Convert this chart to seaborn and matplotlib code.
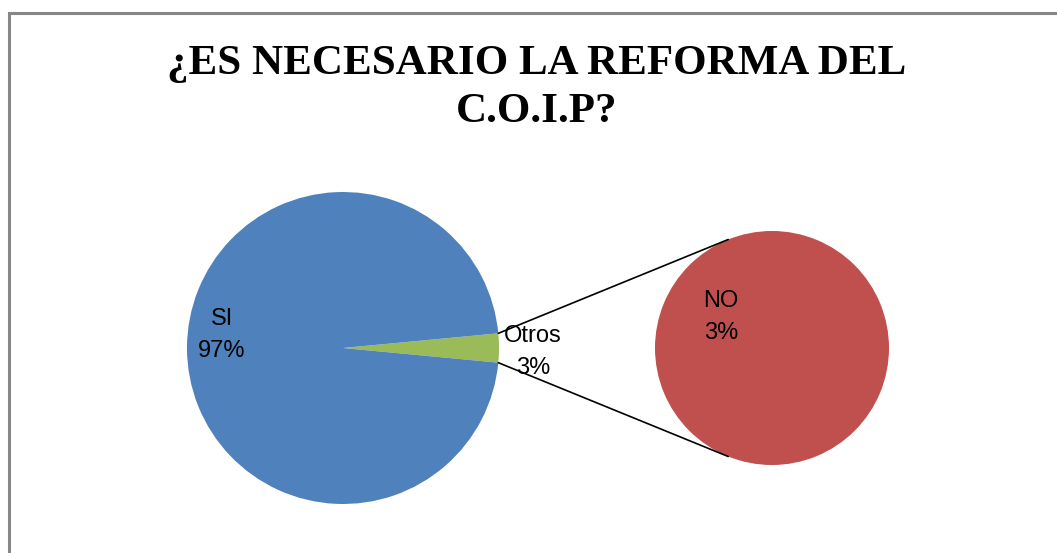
import numpy as np
import matplotlib.pyplot as plt
import seaborn as sns
from matplotlib.patches import Rectangle

# data
main_labels = ["Otros", "SI"]
main_values = [3, 97]
sub_labels = ["NO"]
sub_values = [3]
title = "¿ES NECESARIO LA REFORMA DEL\nC.O.I.P?"

sns.set_theme(style="white")
plt.rcParams["font.family"] = ["Liberation Sans", "DejaVu Sans"]
plt.rcParams["text.color"] = "black"
pal = sns.color_palette(["#9BBB59", "#4F81BD", "#C0504D"])

W, H = 1057, 553
fig = plt.figure(figsize=(W / 100, H / 100), dpi=100)
ax = fig.add_axes([0, 0, 1, 1])

# chart frame (runs off right/bottom like the reference)
fig.patches.append(Rectangle((9 / W, -0.1), 1.1, (H - 13) / H + 0.1, transform=fig.transFigure,
                             fill=False, edgecolor="#878787", lw=2.2, zorder=0))

# main pie
c1, r1 = (343, H - 348), 156
frac = main_values[0] / sum(main_values)
half = frac * 360 / 2
ax.pie(main_values, colors=pal[:2], startangle=-half, center=c1, radius=r1,
       wedgeprops=dict(linewidth=0), frame=True)

# secondary pie
c2, r2 = (772, H - 348), 117
ax.pie(sub_values, colors=[pal[2]], center=c2, radius=r2,
       wedgeprops=dict(linewidth=0), frame=True)
ax.set_xlim(0, W)
ax.set_ylim(0, H)
ax.set_aspect("equal")
ax.axis("off")

# connector lines
a = np.deg2rad(half)
b = np.deg2rad(112)
for s in (1, -1):
    p1 = (c1[0] + r1 * np.cos(s * a), c1[1] + r1 * np.sin(s * a))
    p2 = (c2[0] + r2 * np.cos(s * b), c2[1] + r2 * np.sin(s * b))
    ax.plot([p1[0], p2[0]], [p1[1], p2[1]], color="black", lw=1.2, zorder=5)

# labels
fs = 17
kw = dict(ha="center", va="center", fontsize=fs, linespacing=1.6, zorder=6, color="black")
ax.text(222, H - 335, f"{main_labels[1]}\n{main_values[1]}%", **kw)
ax.text(533, H - 352, f"{main_labels[0]}\n{main_values[0]}%", **kw)
ax.text(721, H - 317, f"{sub_labels[0]}\n{sub_values[0]}%", **kw)

fig.text(537 / W, 1 - 88 / H, title, ha="center", va="center", fontsize=31,
         fontweight="bold", family=["Liberation Serif", "DejaVu Serif"], linespacing=1.36,
         color="black")

fig.savefig("out.png", dpi=100)
